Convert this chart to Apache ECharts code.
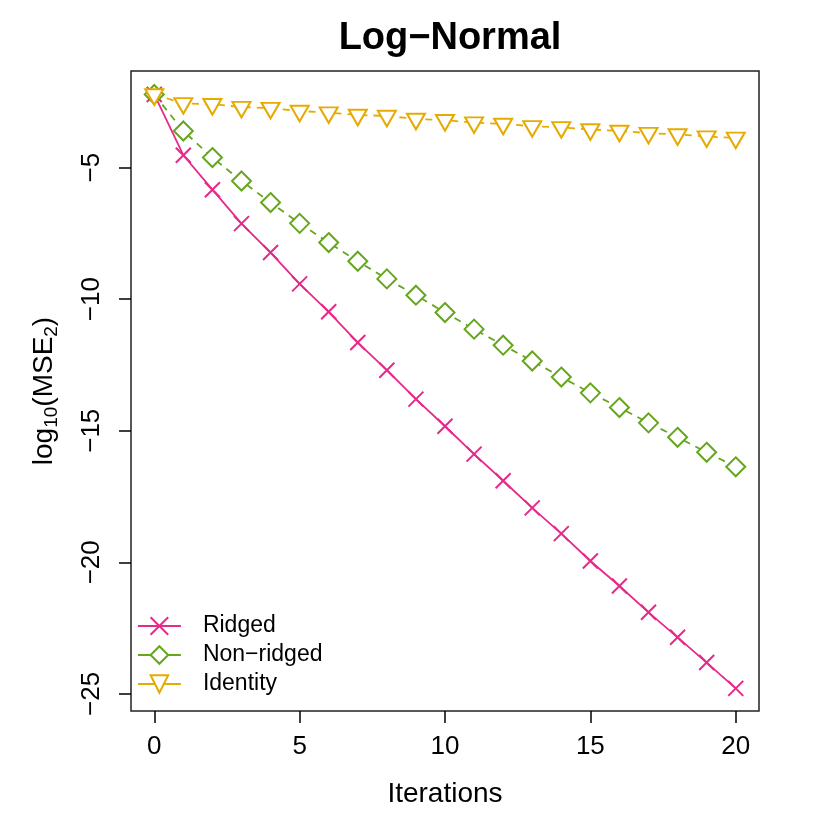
<!DOCTYPE html>
<html>
<head>
<meta charset="utf-8">
<script src="https://cdn.jsdelivr.net/npm/echarts@6/dist/echarts.min.js"></script>
<style>
  html, body { margin: 0; padding: 0; background: #fff; }
  #chart { width: 830px; height: 830px; }
</style>
</head>
<body>
<div id="chart"></div>
<script>
// log10(MSE_2) per iteration
const iterations = [0,1,2,3,4,5,6,7,8,9,10,11,12,13,14,15,16,17,18,19,20];
const ridged = [-2.22,-4.53,-5.84,-7.13,-8.23,-9.42,-10.48,-11.65,-12.70,-13.80,-14.83,
  -15.89,-16.90,-17.93,-18.91,-19.95,-20.90,-21.90,-22.85,-23.81,-24.79];
const nonRidged = [-2.22,-3.61,-4.62,-5.51,-6.33,-7.12,-7.85,-8.56,-9.23,-9.85,-10.51,
  -11.14,-11.75,-12.35,-12.96,-13.56,-14.12,-14.70,-15.25,-15.82,-16.37];
const identity = [-2.22,-2.56,-2.59,-2.70,-2.74,-2.85,-2.91,-3.00,-3.04,-3.15,-3.20,
  -3.29,-3.34,-3.43,-3.47,-3.55,-3.61,-3.69,-3.74,-3.82,-3.87];
const xTicks = [0, 5, 10, 15, 20];
const yTicks = [-25, -20, -15, -10, -5];

const font = "'Liberation Sans', Arial, Helvetica, sans-serif";
const pink = '#E7298A', green = '#66A61E', gold = '#E6AB02';
const minus = v => String(v).replace('-', '\u2212');
const pairs = ys => iterations.map((x, i) => [x, ys[i]]);

var myChart = echarts.init(document.getElementById('chart'));
let option = {
  animation: false,
  title: {
    text: 'Log\u2212Normal',
    left: 445,
    top: 15,
    textAlign: 'center',
    textStyle: { fontFamily: font, fontSize: 38, fontWeight: 'bold', color: '#000' }
  },
  grid: {
    left: 131, right: 71, top: 71, bottom: 119,
    show: true, borderColor: '#222', borderWidth: 1.5,
    outerBoundsMode: 'none'
  },
  legend: {
    orient: 'vertical',
    left: 137,
    top: 614,
    padding: 0,
    itemWidth: 43,
    itemHeight: 22,
    itemGap: 5,
    lineStyle: { type: 'solid', width: 1.8 },
    textStyle: { fontFamily: font, fontSize: 23, color: '#000', padding: [0, 0, 0, 17], lineHeight: 24 },
    data: ['Ridged', 'Non\u2212ridged', 'Identity']
  },
  xAxis: {
    type: 'value',
    min: -0.8, max: 20.8,
    name: 'Iterations',
    nameLocation: 'middle',
    nameGap: 69,
    nameTextStyle: { fontFamily: font, fontSize: 28, color: '#000' },
    axisLine: { show: false, onZero: false },
    axisTick: { show: true, customValues: xTicks, length: 12, lineStyle: { color: '#000', width: 1.5 } },
    axisLabel: { customValues: xTicks, margin: 23, fontFamily: font, fontSize: 26, color: '#000' },
    splitLine: { show: false }
  },
  yAxis: {
    type: 'value',
    min: -25.65, max: -1.33,
    name: '{a|log}{b|10}{a|(MSE}{b|2}{a|)}',
    nameLocation: 'middle',
    nameRotate: 90,
    nameGap: 70,
    nameTextStyle: {
      rich: {
        a: { fontFamily: font, fontSize: 28, color: '#000', lineHeight: 34 },
        b: { fontFamily: font, fontSize: 19, color: '#000', verticalAlign: 'bottom', lineHeight: 19 }
      }
    },
    axisLine: { show: false, onZero: false },
    axisTick: { show: true, customValues: yTicks, length: 12, lineStyle: { color: '#000', width: 1.5 } },
    axisLabel: {
      customValues: yTicks, rotate: 90, margin: 26,
      fontFamily: font, fontSize: 26, color: '#000',
      formatter: minus
    },
    splitLine: { show: false }
  },
  series: [
    {
      name: 'Ridged',
      type: 'line',
      data: pairs(ridged),
      symbol: 'path://M0,0L10,10M10,0L0,10',
      symbolSize: 15,
      itemStyle: { color: pink, borderColor: pink, borderWidth: 2 },
      lineStyle: { color: pink, width: 1.8 }
    },
    {
      name: 'Non\u2212ridged',
      type: 'line',
      data: pairs(nonRidged),
      symbol: 'path://M5,0L10,5L5,10L0,5Z',
      symbolSize: 19,
      itemStyle: { color: '#fff', borderColor: green, borderWidth: 2 },
      lineStyle: { color: green, width: 1.8, type: [7, 6] }
    },
    {
      name: 'Identity',
      type: 'line',
      data: pairs(identity),
      symbol: 'path://M0,0L18,0L9,15.6Z',
      symbolSize: [18, 15.6],
      symbolOffset: [0, 2.6],
      itemStyle: { color: '#fff', borderColor: gold, borderWidth: 2 },
      lineStyle: { color: gold, width: 1.8, type: [7, 6] }
    }
  ]
};
option && myChart.setOption(option);
</script>
</body>
</html>
